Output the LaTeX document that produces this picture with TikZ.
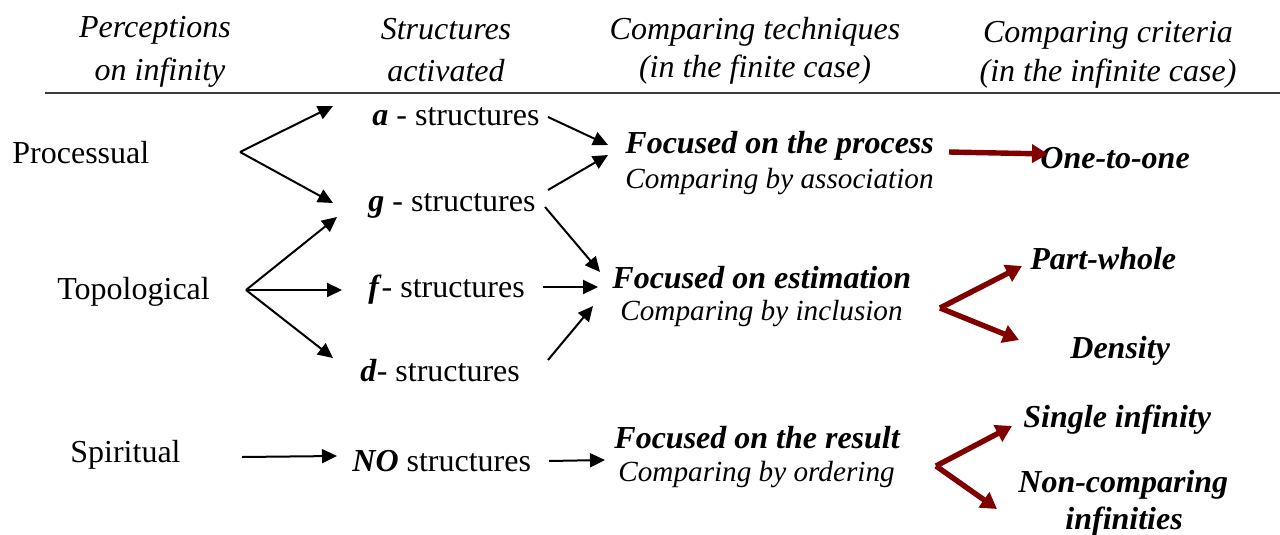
\documentclass[tikz,border=0pt]{standalone}
\usepackage{fontspec}
\setmainfont{Liberation Serif}
\usetikzlibrary{arrows.meta}
\definecolor{dred}{RGB}{128,0,0}
\definecolor{rulegray}{RGB}{60,60,60}
\begin{document}
\begin{tikzpicture}[x=0.5pt,y=-0.5pt,
  every node/.style={inner sep=0pt,font=\fontsize{16}{19}\selectfont},
  head/.style={anchor=base,font=\fontsize{16}{19}\selectfont\itshape},
  lbl/.style={anchor=base west},
  bi/.style={anchor=base west,font=\fontsize{16}{19}\selectfont\bfseries\itshape},
  it/.style={anchor=base west,font=\fontsize{14.6}{18}\selectfont\itshape},
  arr/.style={line width=1pt,-{Triangle[length=7.5pt,width=7pt]}},
  rarr/.style={draw=dred,line width=2.7pt,-{Triangle[length=8pt,width=9pt]},fill=dred}]
\useasboundingbox (0,0) rectangle (1280,535);
% header
\node[head] (h1a) at (155,38) {Perceptions};
\node[head] (h1b) at (160,81) {on infinity};
\node[head] (h2a) at (446,40) {Structures};
\node[head] (h2b) at (446,82) {activated};
\node[head] (h3a) at (755,40) {Comparing techniques};
\node[head] (h3b) at (755,78) {(in the finite case)};
\node[head] (h4a) at (1108,43) {Comparing criteria};
\node[head] (h4b) at (1108,82) {(in the infinite case)};
\coordinate (rl) at (45,93);
\coordinate (rr) at (1280,93);
\draw[rulegray,line width=1pt] (rl) -- (rr);
% perceptions
\node[lbl] (proc) at (12,163) {Processual};
\node[lbl] (topo) at (57,299) {Topological};
\node[lbl] (spir) at (70,462) {Spiritual};
% structures
\node[lbl] (sa) at (372,126) {\textbf{\textit{a}} - structures};
\node[lbl] (sg) at (368,212) {\textbf{\textit{g}} - structures};
\node[lbl] (sf) at (368,297) {\textbf{\textit{f}}- structures};
\node[lbl] (sd) at (360,381) {\textbf{\textit{d}}- structures};
\node[lbl] (sno) at (352,471) {\textbf{\textit{NO}} structures};
% techniques
\node[bi] (tp) at (625,154) {Focused on the process};
\node[it] (tpa) at (625,188) {Comparing by association};
\node[bi] (te) at (612,288) {Focused on estimation};
\node[it] (tei) at (620,320) {Comparing by inclusion};
\node[bi] (tr) at (614,448) {Focused on the result};
\node[it] (tro) at (618,481) {Comparing by ordering};
% criteria
\node[bi] (c1) at (1040,169) {One-to-one};
\node[bi] (c2) at (1030,269) {Part-whole};
\node[bi] (c3) at (1070,358) {Density};
\node[bi] (c4) at (1023,427) {Single infinity};
\node[bi] (c5) at (1018,492) {Non-comparing};
\node[bi] (c6) at (1065,529) {infinities};
% arrow points
\coordinate (pf) at (240,152);
\coordinate (pa) at (333,106);
\coordinate (pg) at (333,203);
\coordinate (tf) at (246,290);
\coordinate (tg) at (337,217);
\coordinate (tff) at (342,290);
\coordinate (td) at (333,358);
\coordinate (sp0) at (242,457);
\coordinate (sp1) at (337,456);
\coordinate (a0) at (548,117);
\coordinate (a1) at (608,145);
\coordinate (g0) at (548,190);
\coordinate (g1) at (608,155);
\coordinate (g2) at (545,207);
\coordinate (g3) at (600,272);
\coordinate (f0) at (543,287);
\coordinate (f1) at (598,287);
\coordinate (d0) at (548,360);
\coordinate (d1) at (593,306);
\coordinate (n0) at (549,461);
\coordinate (n1) at (605,460);
\coordinate (r0) at (949,152);
\coordinate (r1) at (1048,154);
\coordinate (pw) at (940,308);
\coordinate (pw1) at (1022,266);
\coordinate (pw2) at (1019,340);
\coordinate (si) at (936,466);
\coordinate (si1) at (1012,426);
\coordinate (si2) at (997,509);
% black arrows
\draw[arr] (pf) -- (pa);
\draw[arr] (pf) -- (pg);
\draw[arr] (tf) -- (tg);
\draw[arr] (tf) -- (tff);
\draw[arr] (tf) -- (td);
\draw[arr] (sp0) -- (sp1);
\draw[arr] (a0) -- (a1);
\draw[arr] (g0) -- (g1);
\draw[arr] (g2) -- (g3);
\draw[arr] (f0) -- (f1);
\draw[arr] (d0) -- (d1);
\draw[arr] (n0) -- (n1);
% red arrows
\draw[rarr] (r0) -- (r1);
\draw[rarr] (pw) -- (pw1);
\draw[rarr] (pw) -- (pw2);
\draw[rarr] (si) -- (si1);
\draw[rarr] (si) -- (si2);
\end{tikzpicture}
\end{document}
